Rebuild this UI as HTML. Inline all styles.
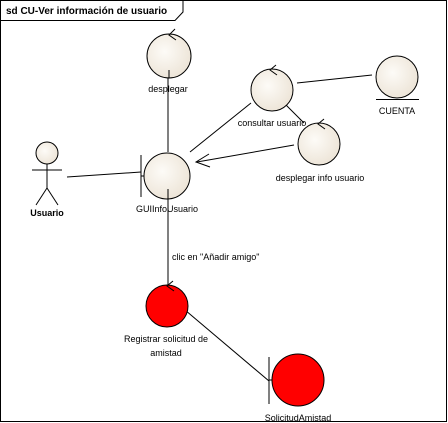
<!DOCTYPE html>
<html><head><meta charset="utf-8"><style>
html,body{margin:0;padding:0;background:#fff;}
svg{display:block;}
text{font-family:"Liberation Sans",sans-serif;font-size:9px;fill:#000;}
</style></head><body>
<svg width="448" height="423" viewBox="0 0 448 423" xmlns="http://www.w3.org/2000/svg">
<defs>
<radialGradient id="beige" cx="0.4" cy="0.4" r="0.7">
<stop offset="0" stop-color="#fdfbf7"/><stop offset="1" stop-color="#ebe2d4"/>
</radialGradient>
</defs>
<rect x="0.5" y="0.5" width="446" height="421" fill="#fff" stroke="#000"/>
<path d="M0.5 20.5 H175 L183 12 V0.5" fill="none" stroke="#000"/>
<text x="6" y="14" style="font-weight:bold;font-size:10px">sd CU-Ver información de usuario</text>

<!-- lines -->
<g stroke="#000" stroke-width="1" fill="none">
<line x1="168" y1="70" x2="168" y2="152"/>
<line x1="67" y1="177" x2="141" y2="172"/>
<line x1="190" y1="152" x2="251" y2="103"/>
<line x1="297" y1="83" x2="372" y2="75"/>
<line x1="286" y1="105" x2="304" y2="123"/>
<line x1="294" y1="145" x2="197" y2="162"/>
<polyline points="209,154 196,162 210,167"/>
<line x1="168" y1="198" x2="168" y2="288"/>
<line x1="185" y1="310" x2="269" y2="381"/>
</g>

<!-- desplegar -->
<circle cx="169" cy="56" r="22" fill="url(#beige)" stroke="#000"/>
<line x1="169" y1="70" x2="169" y2="78" stroke="#000"/>
<polyline points="175,29 169,35 176,40" fill="none" stroke="#000"/>
<text x="168" y="92" text-anchor="middle">desplegar</text>

<!-- actor -->
<circle cx="47" cy="153" r="11" fill="url(#beige)" stroke="#000"/>
<g stroke="#000" fill="none">
<line x1="47" y1="164" x2="47" y2="188"/>
<line x1="32" y1="170" x2="62" y2="170"/>
<line x1="47" y1="188" x2="36" y2="205"/>
<line x1="47" y1="188" x2="58" y2="205"/>
</g>
<text x="47" y="216" text-anchor="middle" style="font-weight:bold">Usuario</text>

<!-- GUIInfoUsuario -->
<circle cx="167" cy="176" r="23" fill="url(#beige)" stroke="#000"/>
<line x1="168" y1="189" x2="168" y2="199" stroke="#000"/>
<line x1="141" y1="155" x2="141" y2="197" stroke="#000"/>
<line x1="141" y1="176" x2="144" y2="176" stroke="#000"/>
<text x="167" y="212" text-anchor="middle">GUIInfoUsuario</text>

<!-- consultar usuario -->
<circle cx="272" cy="90" r="21" fill="url(#beige)" stroke="#000"/>
<polyline points="276,65 270,70 277,75" fill="none" stroke="#000"/>
<text x="272" y="126" text-anchor="middle">consultar usuario</text>

<!-- CUENTA -->
<circle cx="397" cy="77" r="21" fill="url(#beige)" stroke="#000"/>
<line x1="376" y1="99.5" x2="419" y2="99.5" stroke="#000"/>
<text x="397" y="114" text-anchor="middle">CUENTA</text>

<!-- desplegar info usuario -->
<circle cx="319" cy="144" r="21" fill="url(#beige)" stroke="#000"/>
<polyline points="324,119 318,124 325,129" fill="none" stroke="#000"/>
<text x="320" y="181" text-anchor="middle">desplegar info usuario</text>

<text x="172" y="260">clic en "Añadir amigo"</text>

<!-- red control -->
<circle cx="167" cy="306" r="21" fill="#f00" stroke="#000"/>
<polyline points="173,281 167,286 174,291" fill="none" stroke="#000"/>
<text x="166" y="342" text-anchor="middle">Registrar solicitud de</text>
<text x="166" y="356" text-anchor="middle">amistad</text>

<!-- SolicitudAmistad -->
<circle cx="298" cy="380" r="26" fill="#f00" stroke="#000"/>
<line x1="269" y1="357" x2="269" y2="404" stroke="#000"/>
<line x1="269" y1="380" x2="272" y2="380" stroke="#000"/>
<text x="298" y="421" text-anchor="middle">SolicitudAmistad</text>
</svg>
</body></html>
